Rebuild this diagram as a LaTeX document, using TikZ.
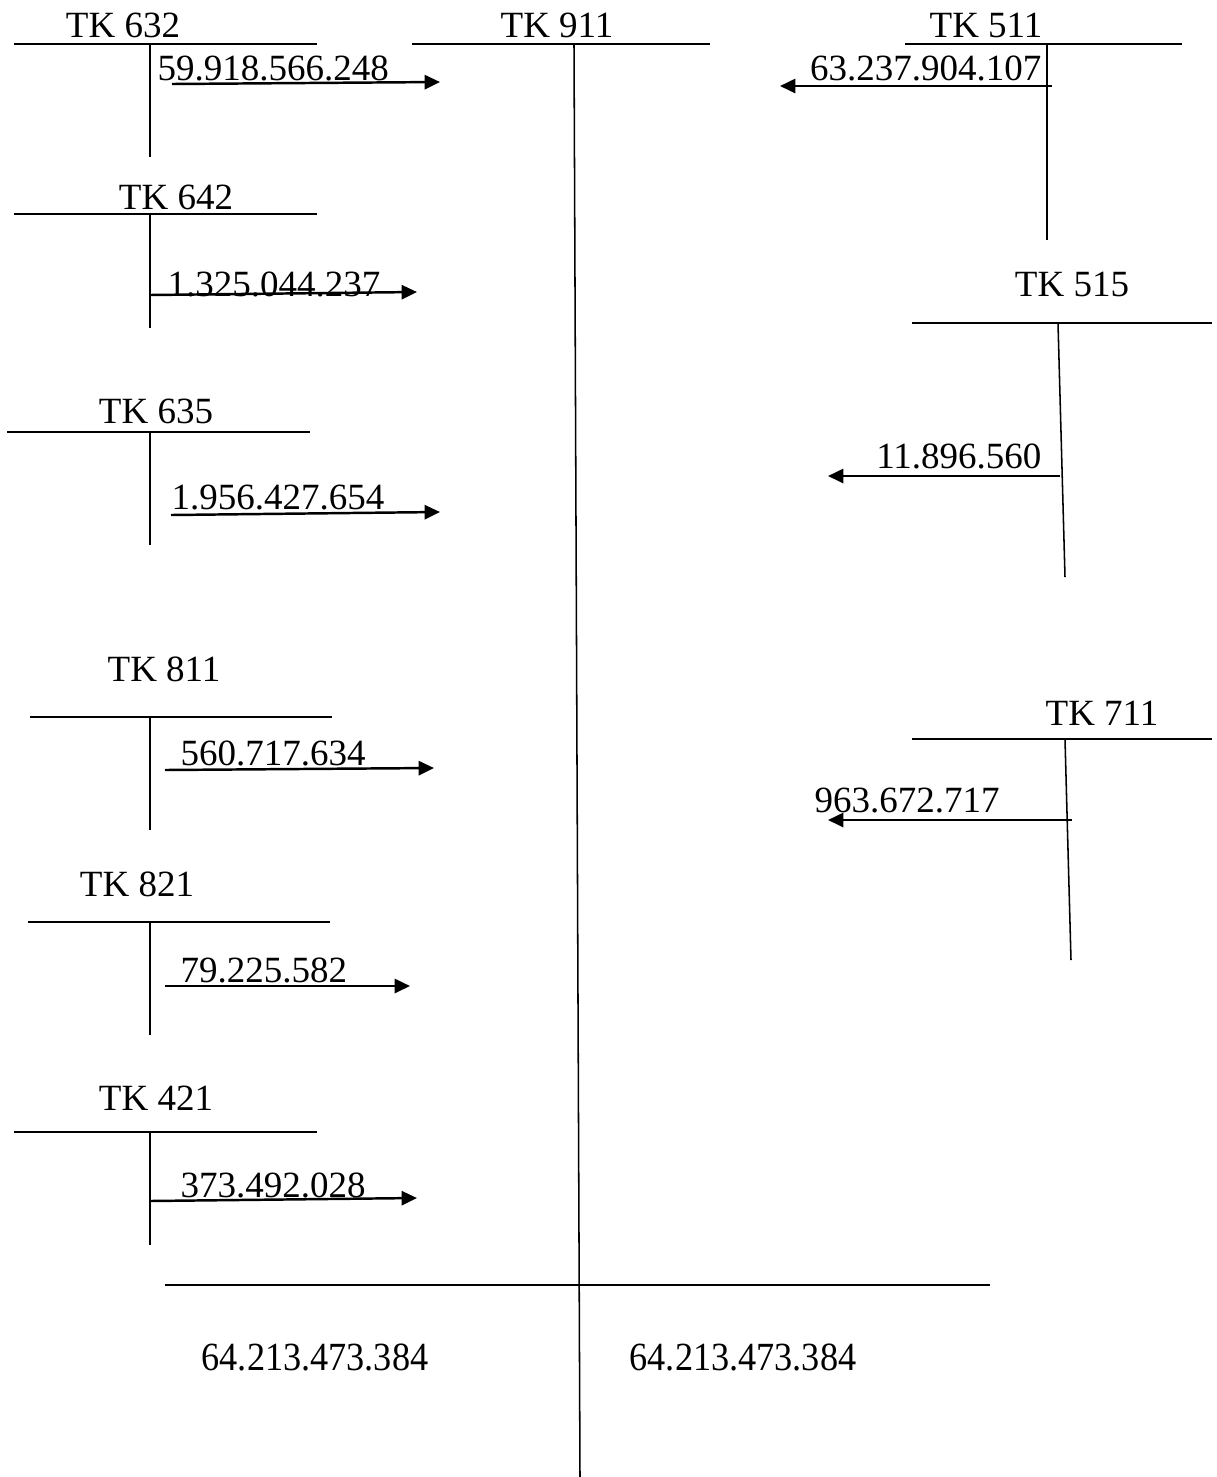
\documentclass[tikz,border=0pt]{standalone}
\usepackage{fontspec}
\setmainfont{Liberation Serif}
\usepackage{tikz}
\usetikzlibrary{arrows.meta}

\begin{document}
\begin{tikzpicture}[
  x=0.0114cm, y=-0.0114cm,
  tline/.style={line width=0.5pt},
  flow/.style={-{Triangle[length=5pt, width=4.6pt]}, line width=0.8pt},
  acct/.style={anchor=base, inner sep=0pt, font=\fontsize{12}{14}\selectfont},
  amt/.style={inner sep=0pt, font=\fontsize{12}{14}\selectfont},
  total/.style={inner sep=0pt, font=\fontsize{12}{14}\selectfont, yscale=1.08, xscale=0.98},
]
\useasboundingbox (0,0) rectangle (1217,1477);

% ===== CENTRE: TK 911 =====
\node[acct] (tk911) at (557,37) {TK 911};
\draw[tline] (412,44) -- (710,44);
\draw[tline] (574,44) -- (580,1477);
\draw[tline] (165,1285) -- (990,1285);
\node[total, anchor=base] (debit) at (315,1370) {64.213.473.384};
\node[total, anchor=base] (credit) at (743,1370) {64.213.473.384};

% ===== LEFT COLUMN: debit side =====
% TK 632
\node[acct] (tk632) at (123,37) {TK 632};
\draw[tline] (14,44) -- (317,44);
\draw[tline] (150,44) -- (150,157);
\node[amt, anchor=base west] (v632) at (157,80) {59.918.566.248};
\coordinate (s632) at (172,84);
\coordinate (e632) at (440,82);
\draw[flow] (s632) -- (e632);

% TK 642
\node[acct] (tk642) at (176,209) {TK 642};
\draw[tline] (14,214) -- (317,214);
\draw[tline] (150,214) -- (150,328);
\node[amt, anchor=base west] (v642) at (167,296) {1.325.044.237};
\coordinate (s642) at (150,295);
\coordinate (e642) at (417,292);
\draw[flow] (s642) -- (e642);

% TK 635
\node[acct] (tk635) at (156,423) {TK 635};
\draw[tline] (7,432) -- (310,432);
\draw[tline] (150,432) -- (150,545);
\node[amt, anchor=base west] (v635) at (171,509) {1.956.427.654};
\coordinate (s635) at (171,515);
\coordinate (e635) at (440,512);
\draw[flow] (s635) -- (e635);

% TK 811
\node[acct] (tk811) at (164,681) {TK 811};
\draw[tline] (30,717) -- (332,717);
\draw[tline] (150,717) -- (150,830);
\node[amt, anchor=base west] (v811) at (180,765) {560.717.634};
\coordinate (s811) at (165,770);
\coordinate (e811) at (434,768);
\draw[flow] (s811) -- (e811);

% TK 821
\node[acct] (tk821) at (137,896) {TK 821};
\draw[tline] (28,922) -- (330,922);
\draw[tline] (150,922) -- (150,1035);
\node[amt, anchor=base west] (v821) at (180,982) {79.225.582};
\coordinate (s821) at (165,986);
\coordinate (e821) at (410,986);
\draw[flow] (s821) -- (e821);

% TK 421
\node[acct] (tk421) at (156,1110) {TK 421};
\draw[tline] (14,1132) -- (317,1132);
\draw[tline] (150,1132) -- (150,1245);
\node[amt, anchor=base west] (v421) at (180,1197) {373.492.028};
\coordinate (s421) at (150,1201);
\coordinate (e421) at (417,1198);
\draw[flow] (s421) -- (e421);

% ===== RIGHT COLUMN: credit side =====
% TK 511
\node[acct] (tk511) at (986,37) {TK 511};
\draw[tline] (905,44) -- (1182,44);
\draw[tline] (1047,44) -- (1047,240);
\node[amt, anchor=base east] (v511) at (1042,80) {63.237.904.107};
\coordinate (s511) at (1052,86);
\coordinate (e511) at (780,86);
\draw[flow] (s511) -- (e511);

% TK 515
\node[acct] (tk515) at (1072,296) {TK 515};
\draw[tline] (912,323) -- (1212,323);
\draw[tline] (1058,323) -- (1065,577);
\node[amt, anchor=base east] (v515) at (1042,468) {11.896.560};
\coordinate (s515) at (1060,476);
\coordinate (e515) at (828,476);
\draw[flow] (s515) -- (e515);

% TK 711
\node[acct] (tk711) at (1102,725) {TK 711};
\draw[tline] (912,739) -- (1212,739);
\draw[tline] (1065,739) -- (1071,960);
\node[amt, anchor=base west] (v711) at (814,812) {963.672.717};
\coordinate (s711) at (1072,820);
\coordinate (e711) at (828,820);
\draw[flow] (s711) -- (e711);

\end{tikzpicture}
\end{document}
